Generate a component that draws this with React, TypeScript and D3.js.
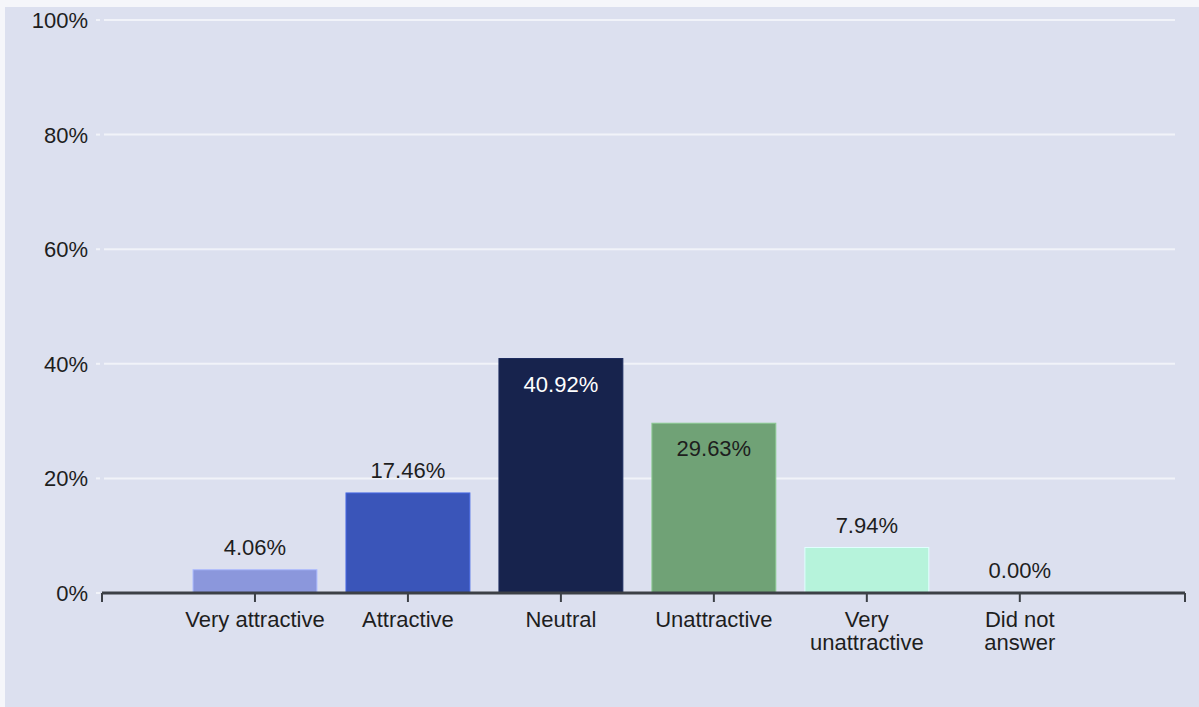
import React, { useEffect, useRef } from 'react';
import * as d3 from 'd3';

const categories = ['Very attractive', 'Attractive', 'Neutral', 'Unattractive', 'Very\nunattractive', 'Did not\nanswer'];
const values = [4.06, 17.46, 40.92, 29.63, 7.94, 0.0];
const barColors = ['#8b97dc', '#3a55b9', '#17234d', '#70a276', '#b6f3db', '#cccccc'];
const yTicks = [0, 20, 40, 60, 80, 100];

const W = 1199;
const H = 707;
const FONT = '"Liberation Sans", Arial, sans-serif';
const X_MAX = 7.08;

const App: React.FC = () => {
  const svgRef = useRef<SVGSVGElement>(null);

  useEffect(() => {
    if (!svgRef.current) return;
    const svg = d3.select(svgRef.current);
    svg.selectAll('*').remove();

    // page strip + chart background
    svg.append('rect').attr('width', W).attr('height', H).attr('fill', '#f5f6fa');
    svg.append('rect').attr('x', 5).attr('y', 7).attr('width', W - 5).attr('height', H - 7).attr('fill', '#dce0ef');

    const y = d3.scaleLinear().domain([0, 100]).range([593, 20]);
    const x = d3.scaleLinear().domain([0, X_MAX]).range([102, 1185]);
    const step = x(1) - x(0);
    const barW = step * 0.81;

    // gridlines
    const grid = svg.append('g');
    yTicks.forEach(t => {
      if (t > 0) {
        grid.append('line')
          .attr('x1', 104).attr('x2', 1175)
          .attr('y1', y(t)).attr('y2', y(t))
          .attr('stroke', '#f1f3f9').attr('stroke-width', 2);
      }
      grid.append('line')
        .attr('x1', 96).attr('x2', 100)
        .attr('y1', y(t)).attr('y2', y(t))
        .attr('stroke', '#f1f3f9').attr('stroke-width', 2);
      grid.append('text')
        .attr('x', 88).attr('y', y(t) + 8)
        .attr('text-anchor', 'end')
        .attr('font-family', FONT).attr('font-size', 22)
        .attr('fill', '#1e1e1e')
        .text(`${t}%`);
    });

    // bars
    const bars = svg.append('g');
    values.forEach((v, i) => {
      const cx = x(i + 1);
      if (v > 0) {
        bars.append('rect')
          .attr('x', cx - barW / 2)
          .attr('y', y(v))
          .attr('width', barW)
          .attr('height', y(0) - y(v))
          .attr('fill', barColors[i])
          .attr('stroke', d3.color(barColors[i])!.brighter(0.6).formatHex())
          .attr('stroke-width', 1);
      }
      const inside = v > 20;
      const dark = d3.hsl(barColors[i]).l < 0.3;
      bars.append('text')
        .attr('x', cx)
        .attr('y', inside ? y(v) + 33 : y(v) - 15)
        .attr('text-anchor', 'middle')
        .attr('font-family', FONT).attr('font-size', 22)
        .attr('fill', inside && dark ? '#ffffff' : '#1e1e1e')
        .text(`${v.toFixed(2)}%`);
    });

    // x axis
    const axis = svg.append('g');
    axis.append('line')
      .attr('x1', x(0)).attr('x2', x(X_MAX))
      .attr('y1', y(0)).attr('y2', y(0))
      .attr('stroke', '#3c4046').attr('stroke-width', 3);
    const tickPos = [0, ...categories.map((_, i) => i + 1), X_MAX];
    tickPos.forEach(p => {
      axis.append('line')
        .attr('x1', x(p)).attr('x2', x(p))
        .attr('y1', y(0)).attr('y2', y(0) + 9)
        .attr('stroke', '#3c4046').attr('stroke-width', 2);
    });
    categories.forEach((c, i) => {
      const t = axis.append('text')
        .attr('x', x(i + 1))
        .attr('y', 627)
        .attr('text-anchor', 'middle')
        .attr('font-family', FONT).attr('font-size', 22)
        .attr('fill', '#1e1e1e');
      c.split('\n').forEach((line, j) => {
        t.append('tspan').attr('x', x(i + 1)).attr('dy', j === 0 ? 0 : 23).text(line);
      });
    });
  }, []);

  return (
    <div style={{ position: 'fixed', left: 0, top: 0 }}>
      <svg ref={svgRef} width={W} height={H} style={{ display: 'block' }} />
    </div>
  );
};

export default App;
